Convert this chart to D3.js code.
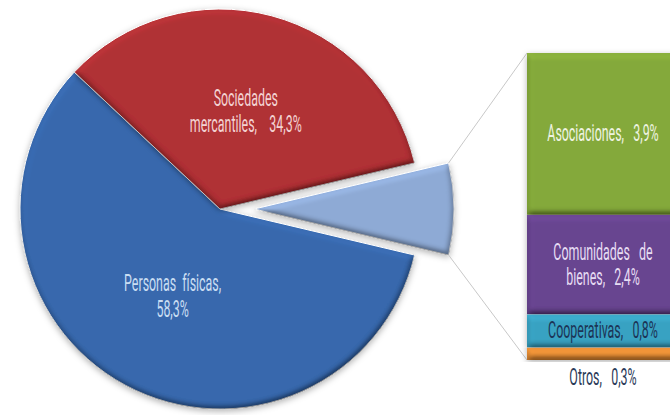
<!DOCTYPE html>
<html>
<head>
<meta charset="utf-8">
<script src="https://cdn.jsdelivr.net/npm/d3@7"></script>
<style>
  body { margin: 0; background: #fff; }
  svg { display: block; }
  text { font-family: Roboto, "DejaVu Sans", sans-serif; font-weight: 400; white-space: pre; }
</style>
</head>
<body>
<div id="chart"></div>
<script>
// main pie
const mainLabels = ["Personas físicas", "Sociedades mercantiles"];
const mainValues = [58.3, 34.3];
const mainColors = ["#3768ad", "#b03034"];
const mainText = ["#c9ddf2", "#f3d3d3"];

// secondary bar (breakdown of the small slice)
const barLabels = ["Asociaciones", "Comunidades de bienes", "Cooperativas", "Otros"];
const barValues = [3.9, 2.4, 0.8, 0.3];
const barColors = ["#84a93a", "#684490", "#38a2c2", "#e48c34"];
const barText = ["#eef3e0", "#e6dcf3", "#1c3456", "#2a3a58"];

const W = 670, H = 415;
const cx = 220, cy = 209, R = 200;
const explode = 34;
const condense = 0.54;

const svg = d3.select("#chart").append("svg").attr("width", W).attr("height", H);
const defs = svg.append("defs");

// bevel: diffuse shading normalised so flat areas keep their colour
const elev = 60;
const bevel = defs.append("filter").attr("id", "bevel")
  .attr("x", "-10%").attr("y", "-10%").attr("width", "120%").attr("height", "125%");
bevel.append("feGaussianBlur").attr("in", "SourceAlpha").attr("stdDeviation", 3).attr("result", "blur");
bevel.append("feDiffuseLighting").attr("in", "blur").attr("surfaceScale", 4)
  .attr("diffuseConstant", 1).attr("lighting-color", "#ffffff").attr("result", "diff")
  .append("feDistantLight").attr("azimuth", 250).attr("elevation", elev);
bevel.append("feComposite").attr("in", "SourceGraphic").attr("in2", "diff")
  .attr("operator", "arithmetic").attr("k1", 1 / Math.sin(elev * Math.PI / 180))
  .attr("k2", 0).attr("k3", 0).attr("k4", 0).attr("result", "shaded");
bevel.append("feComposite").attr("in", "shaded").attr("in2", "SourceAlpha").attr("operator", "in").attr("result", "body");
bevel.append("feOffset").attr("in", "blur").attr("dx", 0).attr("dy", 2).attr("result", "off");
bevel.append("feFlood").attr("flood-color", "#000").attr("flood-opacity", 0.3).attr("result", "col");
bevel.append("feComposite").attr("in", "col").attr("in2", "off").attr("operator", "in").attr("result", "shadow");
const merge = bevel.append("feMerge");
merge.append("feMergeNode").attr("in", "shadow");
merge.append("feMergeNode").attr("in", "body");

const otherTotal = d3.sum(barValues);
const pieData = [
  { label: "other", value: otherTotal, color: "#8eaad5" },
  { label: mainLabels[0], value: mainValues[0], color: mainColors[0], text: mainText[0] },
  { label: mainLabels[1], value: mainValues[1], color: mainColors[1], text: mainText[1] }
];
const total = d3.sum(pieData, d => d.value);
const half = Math.PI * otherTotal / total;
const start = Math.PI / 2 - half;

const pie = d3.pie().sort(null).value(d => d.value)
  .startAngle(start).endAngle(start + 2 * Math.PI);
const arcs = pie(pieData);
const arc = d3.arc().innerRadius(0).outerRadius(R);

const g = svg.append("g").attr("transform", `translate(${cx},${cy})`);

// connector lines from the exploded slice to the bar
const y = d3.scaleLinear().domain([0, otherTotal]).range([53, 360]);
const barX = 527, barW = 152;
const o = arcs[0];
const p1 = [explode + R * Math.sin(o.startAngle), -R * Math.cos(o.startAngle)];
const p2 = [explode + R * Math.sin(o.endAngle), -R * Math.cos(o.endAngle)];
svg.append("line").attr("x1", cx + p1[0]).attr("y1", cy + p1[1]).attr("x2", barX).attr("y2", y(0))
  .attr("stroke", "#c8c8c8").attr("stroke-width", 1);
svg.append("line").attr("x1", cx + p2[0]).attr("y1", cy + p2[1]).attr("x2", barX).attr("y2", y(otherTotal))
  .attr("stroke", "#c8c8c8").attr("stroke-width", 1);

g.selectAll("path.slice")
  .data(arcs)
  .enter().append("path")
  .attr("class", "slice")
  .attr("transform", (d, i) => i === 0 ? `translate(${explode},0)` : null)
  .attr("d", arc)
  .attr("fill", d => d.data.color)
  .attr("stroke", "#fff").attr("stroke-width", 1)
  .attr("filter", "url(#bevel)");

// pie labels
const fmt = v => v.toFixed(1).replace(".", ",") + "%";
const labelText = [
  null,
  [mainLabels[0] + ",", fmt(mainValues[0])],
  ["Sociedades", "mercantiles,  " + fmt(mainValues[1])]
];
arcs.forEach((a, i) => {
  if (!labelText[i]) return;
  const c = arc.centroid(a);
  const t = g.append("g").attr("transform", `translate(${c[0]},${c[1] - 1}) scale(${condense},1)`);
  labelText[i].forEach((line, k) => {
    t.append("text").attr("x", 0).attr("y", (k - 0.5) * 26)
      .attr("text-anchor", "middle").attr("dominant-baseline", "central")
      .attr("font-size", 23).attr("fill", a.data.text)
      .text(line.replace(/ /g, "  "));
  });
});

// stacked bar
let acc = 0;
const segs = barValues.map((v, i) => {
  const s = { label: barLabels[i], value: v, y0: acc, y1: acc + v, color: barColors[i], text: barText[i] };
  acc += v;
  return s;
});
svg.selectAll("rect.seg")
  .data(segs)
  .enter().append("rect")
  .attr("class", "seg")
  .attr("x", barX).attr("width", barW)
  .attr("y", d => y(d.y0)).attr("height", d => y(d.y1) - y(d.y0))
  .attr("fill", d => d.color)
  .attr("filter", "url(#bevel)");

const barLines = [
  ["Asociaciones,   VAL"],
  ["Comunidades   de", "bienes,   VAL"],
  ["Cooperativas,   VAL"],
  ["Otros,   VAL"]
];
segs.forEach((s, i) => {
  const lines = barLines[i].map(l => l.replace("VAL", fmt(s.value)));
  const mid = i === 3 ? y(otherTotal) + 18 : (y(s.y0) + y(s.y1)) / 2;
  const t = svg.append("g").attr("transform", `translate(${barX + barW / 2},${mid}) scale(${condense},1)`);
  lines.forEach((line, k) => {
    t.append("text").attr("x", 0).attr("y", (k - (lines.length - 1) / 2) * 25)
      .attr("text-anchor", "middle").attr("dominant-baseline", "central")
      .attr("font-size", 23).attr("fill", s.text)
      .text(line);
  });
});
</script>
</body>
</html>
